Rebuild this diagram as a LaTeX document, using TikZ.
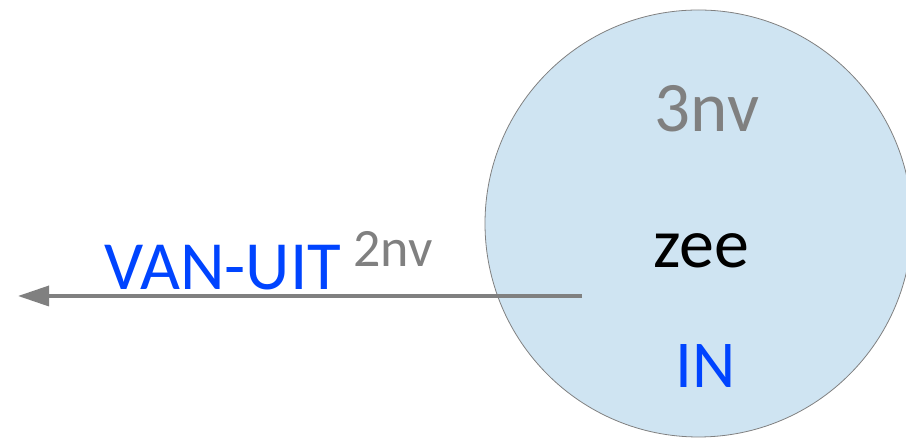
\documentclass[tikz,border=0pt]{standalone}
\usepackage{fontspec}
\setmainfont{Carlito}
\usetikzlibrary{arrows.meta}
\definecolor{seafill}{RGB}{207,228,242}
\definecolor{labelblue}{RGB}{0,68,255}
\definecolor{labelgray}{RGB}{128,128,128}

\begin{document}
\begin{tikzpicture}[x=1pt,y=1pt,
  lbl/.style={inner sep=0pt,anchor=base},
  leftlbl/.style={inner sep=0pt,anchor=base west}]
  \useasboundingbox (0,0) rectangle (906,438);
  % the sea
  \begin{scope}
    \clip (0,0) rectangle (906,438);
    \node[circle,draw=labelgray,fill=seafill,line width=0.8pt,
      minimum size=427pt,inner sep=0pt] (sea) at (698.5,214.5) {};
  \end{scope}
  \node[lbl,text=labelgray] (nvtop) at (707,306) {\fontsize{71}{71}\selectfont 3nv};
  \node[lbl] (zee) at (701,170) {\fontsize{70}{70}\selectfont zee};
  \node[lbl,text=labelblue] (in) at (706,50) {\fontsize{67}{67}\selectfont IN};
  % outgoing arrow
  \coordinate (start) at (582,142);
  \coordinate (tip) at (18,142);
  \draw[-{Triangle[length=31pt,width=20pt]},labelgray,line width=3.5pt] (start) -- (tip);
  \node[leftlbl,text=labelblue] (vanuit) at (104,148) {\fontsize{69}{69}\selectfont VAN-UIT};
  \node[leftlbl,text=labelgray] (nvleft) at (353,171) {\fontsize{54}{54}\selectfont 2nv};
\end{tikzpicture}
\end{document}
